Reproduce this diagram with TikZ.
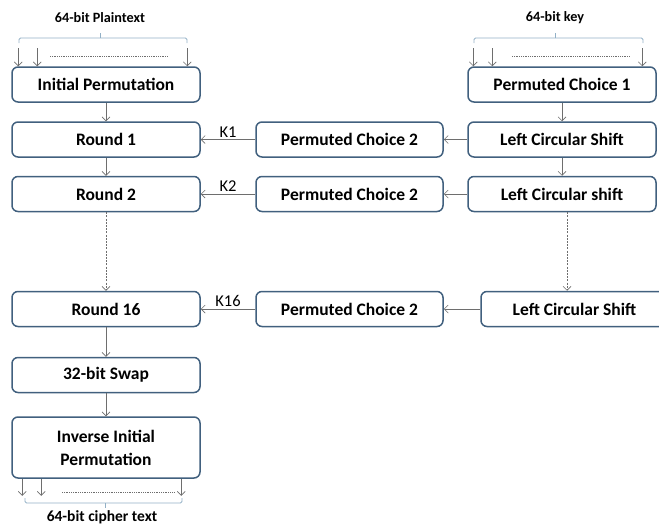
\documentclass[tikz,border=0pt]{standalone}
\usepackage{fontspec}
\setmainfont{Carlito}
\usetikzlibrary{positioning, arrows.meta}
\definecolor{boxblue}{HTML}{41607E}
\definecolor{bracecol}{HTML}{92B0C6}
\definecolor{linkgray}{HTML}{6E6E6E}

\begin{document}
\begin{tikzpicture}[
    x=1pt, y=-1pt,
    stage/.style={rectangle, draw=boxblue, fill=white, line width=1.5pt, rounded corners=6pt, minimum width=188pt, minimum height=35pt, text centered, font=\fontsize{17.5}{21}\selectfont\bfseries},
    link/.style={->, >={Straight Barb[length=4pt, width=8pt]}, draw=linkgray, line width=0.7pt},
    skip/.style={link, dash pattern=on 2pt off 1.2pt},
    keylabel/.style={above, inner sep=2pt, font=\fontsize{16.5}{19}\selectfont},
    bracket/.style={draw=bracecol, line width=0.8pt, rounded corners=1.5pt},
    dots/.style={draw=linkgray, dash pattern=on 1pt off 0.8pt, line width=0.45pt},
    caption/.style={font=\fontsize{14.2}{17}\selectfont\bfseries}
]
\useasboundingbox (0,0) rectangle (659,525);

% Data path
\node[stage] (ip) at (106,84.5) {Initial Permutation};
\node[stage] (round1) at (106,139.5) {Round 1};
\node[stage] (round2) at (106,194) {Round 2};
\node[stage] (round16) at (106,309) {Round 16};
\node[stage] (swap) at (106,375) {32-bit Swap};
\node[stage, minimum height=61pt, align=center] (iip) at (106,447.5) {Inverse Initial\\[2pt]Permutation};

% Key schedule
\node[stage] (pc1) at (562,84.5) {Permuted Choice 1};
\node[stage] (lcs1) at (562,139.5) {Left Circular Shift};
\node[stage] (lcs2) at (562,194) {Left Circular shift};
\node[stage, minimum width=187pt] (lcs16) at (574.5,309) {Left Circular Shift};
\node[stage, minimum width=187pt] (pc2a) at (349.5,139.5) {Permuted Choice 2};
\node[stage, minimum width=187pt] (pc2b) at (349.5,194) {Permuted Choice 2};
\node[stage, minimum width=187pt] (pc2c) at (349.5,309) {Permuted Choice 2};

% Inputs and output
\node[caption] (plain) at (100,18) {64-bit Plaintext};
\node[caption] (key) at (555,18) {64-bit key};
\node[caption, font=\fontsize{15.5}{18}\selectfont\bfseries] (cipher) at (102,517) {64-bit cipher text};

% Brackets
\draw[bracket] (19,43) -- (19,38) -- (187,38) -- (187,43);
\draw[bracket] (100,38) -- (100,33);
\draw[bracket] (474,43) -- (474,38) -- (643,38) -- (643,43);
\draw[bracket] (555,38) -- (555,33);
\draw[bracket] (25,498) -- (25,503) -- (182,503) -- (182,498);
\draw[bracket] (105,503) -- (105,508);

% Bit lines
\foreach \dx in {7,26,176}
  \draw[link] ([shift={(\dx,-18)}]ip.north west) -- ([xshift=\dx]ip.north west);
\foreach \dx in {6,25,175}
  \draw[link] ([shift={(\dx,-18)}]pc1.north west) -- ([xshift=\dx]pc1.north west);
\foreach \dx in {11,30,170}
  \draw[link] ([xshift=\dx]iip.south west) -- ([shift={(\dx,17)}]iip.south west);
\draw[dots] (50,56) -- (168,56);
\draw[dots] (512,56) -- (630,56);
\draw[dots] (62,492) -- (175,492);

% Arrows
\draw[link] (ip) -- (round1);
\draw[link] (round1) -- (round2);
\draw[skip] (round2) -- (round16);
\draw[link] (round16) -- (swap);
\draw[link] (swap) -- (iip);
\draw[link] (pc1) -- (lcs1);
\draw[link] (lcs1) -- (lcs2);
\draw[skip] ([xshift=5pt]lcs2.south) -- ([xshift=-7.5pt]lcs16.north);
\draw[link] (lcs1) -- (pc2a);
\draw[link] (lcs2) -- (pc2b);
\draw[link] (lcs16) -- (pc2c);
\draw[link] (pc2a) -- node[keylabel] (k1) {K1} (round1);
\draw[link] (pc2b) -- node[keylabel] (k2) {K2} (round2);
\draw[link] (pc2c) -- node[keylabel] (k16) {K16} (round16);

\end{tikzpicture}
\end{document}
